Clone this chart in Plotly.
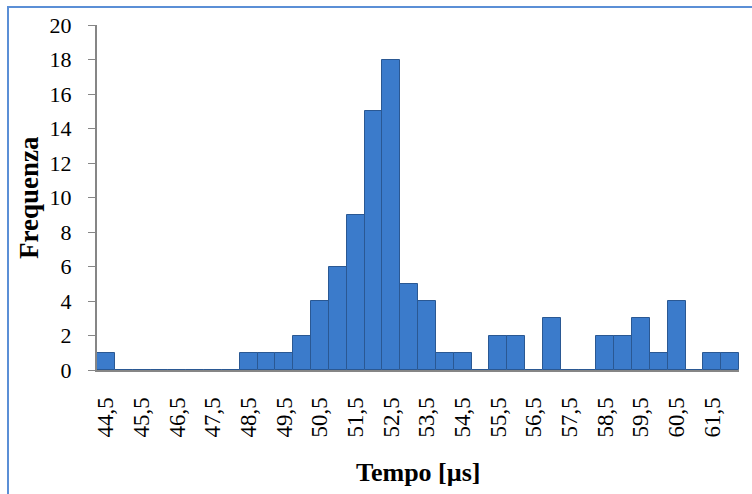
import plotly.graph_objects as go

# Data
bins = [44.5, 45, 45.5, 46, 46.5, 47, 47.5, 48, 48.5, 49, 49.5, 50, 50.5, 51, 51.5, 52, 52.5,
        53, 53.5, 54, 54.5, 55, 55.5, 56, 56.5, 57, 57.5, 58, 58.5, 59, 59.5, 60, 60.5, 61, 61.5, 62]
freq = [1, 0, 0, 0, 0, 0, 0, 0, 1, 1, 1, 2, 4, 6, 9, 15, 18,
        5, 4, 1, 1, 0, 2, 2, 0, 3, 0, 0, 2, 2, 3, 1, 4, 0, 1, 1]
tick_vals = [44.5, 45.5, 46.5, 47.5, 48.5, 49.5, 50.5, 51.5, 52.5, 53.5, 54.5, 55.5, 56.5, 57.5, 58.5, 59.5, 60.5, 61.5]
tick_text = ["44,5", "45,5", "46,5", "47,5", "48,5", "49,5", "50,5", "51,5", "52,5", "53,5",
             "54,5", "55,5", "56,5", "57,5", "58,5", "59,5", "60,5", "61,5"]
y_ticks = [0, 2, 4, 6, 8, 10, 12, 14, 16, 18, 20]
x_title = "Tempo [µs]"
y_title = "Frequenza"

serif = "Liberation Serif, Times New Roman, serif"

W, H = 752, 494
L, R, T, B = 97, 13, 25, 124
PW, PH = W - L - R, H - T - B

fig = go.Figure()
fig.add_trace(go.Bar(
    x=bins, y=freq, width=0.5,
    marker=dict(color="#3b7bcb", line=dict(color="#2a5893", width=1)),
))

fig.update_layout(
    width=W, height=H,
    margin=dict(l=L, r=R, t=T, b=B),
    paper_bgcolor="white", plot_bgcolor="white",
    showlegend=False,
    bargap=0,
    font=dict(family=serif, color="black", size=20),
    xaxis=dict(
        range=[44.25, 62.25],
        tickmode="array", tickvals=tick_vals, ticktext=tick_text,
        tickangle=-90, tickfont=dict(family=serif, size=23),
        ticklabelstandoff=16,
        showgrid=False, zeroline=False,
        showline=True, linecolor="#868686", linewidth=2,
        ticks="",
    ),
    yaxis=dict(
        range=[0, 20],
        tickmode="array", tickvals=y_ticks,
        tickfont=dict(family=serif, size=22),
        ticklabelstandoff=12,
        showgrid=False, zeroline=False,
        showline=True, linecolor="#868686", linewidth=2,
        ticks="outside", ticklen=7, tickcolor="#868686", tickwidth=1,
    ),
)

# axis titles
fig.add_annotation(text=f"<b>{x_title}</b>", xref="paper", yref="paper",
                   x=(419 - L) / PW, y=(T + PH - 473) / PH, showarrow=False,
                   font=dict(family=serif, size=26), xanchor="center", yanchor="middle")
fig.add_annotation(text=f"<b>{y_title}</b>", xref="paper", yref="paper",
                   x=(29 - L) / PW, y=(T + PH - 198) / PH, showarrow=False, textangle=-90,
                   font=dict(family=serif, size=27), xanchor="center", yanchor="middle")

# outer chart border (blue frame, partly cropped)
fig.add_shape(type="rect", xref="paper", yref="paper",
              x0=(8 - L) / PW, x1=(770 - L) / PW,
              y0=(T + PH - 510) / PH, y1=(T + PH - 7) / PH,
              line=dict(color="#5b8fd6", width=2), layer="below")

fig.write_html("out.html")
